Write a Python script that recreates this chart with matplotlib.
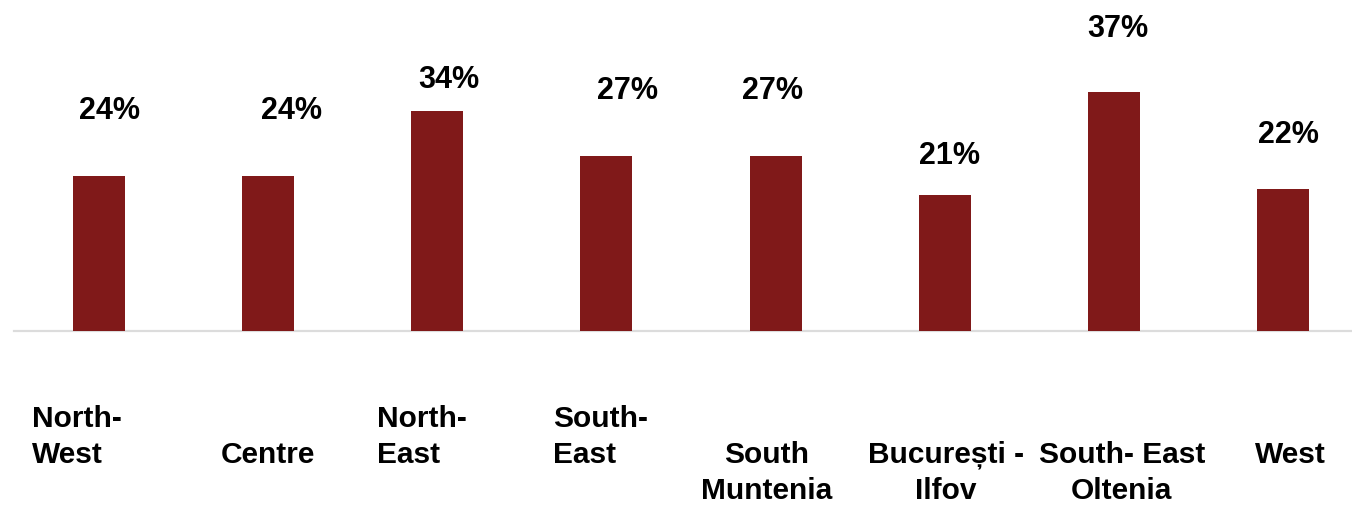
import matplotlib

matplotlib.use("Agg")
import matplotlib.pyplot as plt
from matplotlib.transforms import ScaledTranslation, blended_transform_factory

plt.rcParams["font.family"] = ["Liberation Sans", "DejaVu Sans"]
plt.rcParams["font.weight"] = "bold"

# share of population per development region (%)
regions = [
    "North-\nWest",
    "Centre",
    "North-\nEast",
    "South-\nEast",
    "South\nMuntenia",
    "București -\nIlfov",
    "South- East\nOltenia",
    "West",
]
shares = [24, 24, 34, 27, 27, 21, 37, 22]

# label layout: first text row, alignment and nudges (pixels)
label_row = [0, 1, 0, 0, 1, 1, 1, 1]
label_ha = ["left", "center", "left", "left", "center", "center", "center", "center"]
label_dx = [-67, 0, -60, -53, -9, 1, 8, 7]
value_dx = [11, 23, 12, 21, -3, 5, 4, 5]
value_dy = [57, 57, 23, 57, 57, 31, 55, 46]

BAR_COLOR = "#801919"
W, H, DPI = 1352, 505, 100

fig = plt.figure(figsize=(W / DPI, H / DPI), dpi=DPI)
base = 1 - 331 / H
ax = fig.add_axes([0, base, 1, 1 - base])
ax.set_axis_off()

x = list(range(len(shares)))
px_per_unit = 1184 / 7
ax.set_xlim(-99 / px_per_unit, (W - 99) / px_per_unit)
ax.set_ylim(0, 331 / 6.47)

ax.bar(x, shares, width=0.307, color=BAR_COLOR, zorder=2)
ax.plot([-85 / px_per_unit, (W - 99) / px_per_unit], [0, 0],
        color="#dcdcdc", lw=1.6, zorder=1, clip_on=False)

for xi, v, dx, dy in zip(x, shares, value_dx, value_dy):
    ax.annotate(f"{v}%", (xi, v), xytext=(dx, dy), textcoords="offset pixels",
                ha="center", va="baseline", fontsize=22, fontweight="bold",
                color="black", annotation_clip=False)

# multi-line labels sit on the baseline of their last line
trans = blended_transform_factory(ax.transData, fig.transFigure)
row_baselines = [427, 463, 499]
for xi, name, row, ha, dx in zip(x, regions, label_row, label_ha, label_dx):
    last = row + name.count("\n")
    t = ax.text(xi, 1 - row_baselines[last] / H, name, transform=trans,
                ha=ha, va="baseline", multialignment=ha, fontsize=21.5,
                fontweight="bold", linespacing=1.37, color="black")
    t.set_transform(t.get_transform() + ScaledTranslation(dx / DPI, 0, fig.dpi_scale_trans))

fig.savefig("out.png", dpi=DPI)
